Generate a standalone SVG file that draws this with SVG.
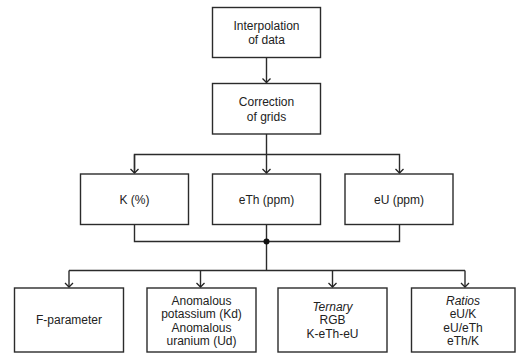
<svg xmlns="http://www.w3.org/2000/svg" width="516" height="355" viewBox="0 0 516 355">
<defs>
<marker id="arr" markerWidth="10" markerHeight="10" refX="5" refY="5" orient="auto" markerUnits="userSpaceOnUse">
<path d="M1,1 L5,5 L1,9" fill="none" stroke="#222" stroke-width="1.3"/>
</marker>
<style>
.box{fill:#fff;stroke:#2b2b2b;stroke-width:1.4}
.t{font-family:"Liberation Sans",Arial,sans-serif;font-size:12px;fill:#222;text-anchor:middle}
.i{font-style:italic}
.c{fill:none;stroke:#2b2b2b;stroke-width:1.4}
</style>
</defs>
<rect width="516" height="355" fill="#fff"/>
<g id="connectors">
<path class="c" d="M266.5,57.5 V82.5" marker-end="url(#arr)"/>
<path class="c" d="M266.5,134 V173" marker-end="url(#arr)"/>
<path class="c" d="M134.5,173 V154.5 H399.5 V173" marker-end="url(#arr)"/>
<path class="c" d="M134.5,154.5 V173" marker-end="url(#arr)"/>
<path class="c" d="M134.5,224.5 V241.5 H399.5 V224.5"/>
<path class="c" d="M266.5,224.5 V270.5"/>
<path class="c" d="M69,270.5 H465"/>
<path class="c" d="M69,270.5 V287" marker-end="url(#arr)"/>
<path class="c" d="M200.5,270.5 V287" marker-end="url(#arr)"/>
<path class="c" d="M332.5,270.5 V287" marker-end="url(#arr)"/>
<path class="c" d="M465,270.5 V287" marker-end="url(#arr)"/>
<circle cx="266.5" cy="241.5" r="3" fill="#111"/>
</g>
<g id="interp">
<rect class="box" x="212.5" y="7.5" width="108" height="50"/>
<text class="t" x="266.5" y="29.5">Interpolation</text>
<text class="t" x="266.5" y="44">of data</text>
</g>
<g id="correction">
<rect class="box" x="212.5" y="83.5" width="108" height="50.5"/>
<text class="t" x="266.5" y="106">Correction</text>
<text class="t" x="266.5" y="120.5">of grids</text>
</g>
<g id="k">
<rect class="box" x="80.5" y="174" width="108" height="50.5"/>
<text class="t" x="134.5" y="203.5">K (%)</text>
</g>
<g id="eth">
<rect class="box" x="212.5" y="174" width="108" height="50.5"/>
<text class="t" x="266.5" y="203.5">eTh (ppm)</text>
</g>
<g id="eu">
<rect class="box" x="345" y="174" width="108" height="50.5"/>
<text class="t" x="399" y="203.5">eU (ppm)</text>
</g>
<g id="fparam">
<rect class="box" x="14.5" y="288" width="109" height="64"/>
<text class="t" x="69" y="324">F-parameter</text>
</g>
<g id="anom">
<rect class="box" x="147" y="288" width="109" height="64"/>
<text class="t" x="201.5" y="304.5">Anomalous</text>
<text class="t" x="201.5" y="318">potassium (Kd)</text>
<text class="t" x="201.5" y="331.5">Anomalous</text>
<text class="t" x="201.5" y="345">uranium (Ud)</text>
</g>
<g id="ternary">
<rect class="box" x="278" y="288" width="109" height="64"/>
<text class="t i" x="332.5" y="310.5">Ternary</text>
<text class="t" x="332.5" y="324">RGB</text>
<text class="t" x="332.5" y="337.5">K-eTh-eU</text>
</g>
<g id="ratios">
<rect class="box" x="411.5" y="288" width="103.5" height="64"/>
<text class="t i" x="463" y="304.5">Ratios</text>
<text class="t" x="463" y="318">eU/K</text>
<text class="t" x="463" y="331.5">eU/eTh</text>
<text class="t" x="463" y="345">eTh/K</text>
</g>
</svg>
